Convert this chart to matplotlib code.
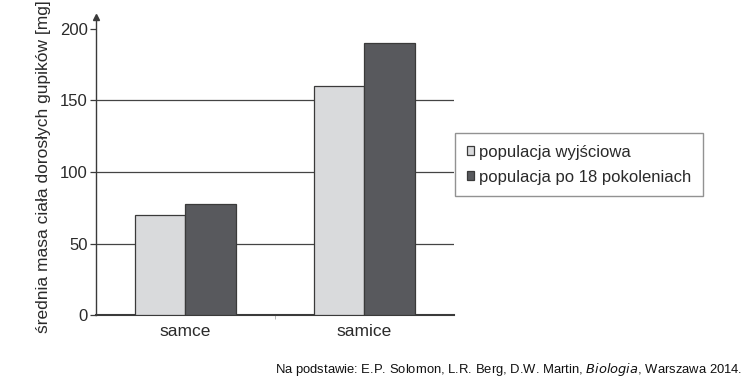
import matplotlib.pyplot as plt
import numpy as np

plt.rcParams['font.family'] = ['Liberation Sans', 'DejaVu Sans']

categories = ["samce", "samice"]
wyjsciowa = [70, 160]
po_18 = [78, 190]
series_labels = ["populacja wyjściowa", "populacja po 18 pokoleniach"]
yticks = [0, 50, 100, 150, 200]

light = "#d9dadc"
dark = "#58595d"
edge = "#3a3a3a"
txt = "#2a2a2a"

fig = plt.figure(figsize=(7.5, 3.8), dpi=100)
ax = fig.add_axes([0.128, 0.170, 0.477, 0.785])

x = np.arange(len(categories))
w = 0.283
b1 = ax.bar(x - w / 2, wyjsciowa, w, color=light, edgecolor=edge, linewidth=0.9, zorder=3)
b2 = ax.bar(x + w / 2, po_18, w, color=dark, edgecolor=edge, linewidth=0.9, zorder=3)

for v in yticks[1:-1]:
    ax.axhline(v, color="#444444", linewidth=0.9, zorder=1)

ax.set_xlim(-0.5, 1.5)
ax.set_ylim(0, 208)
ax.set_yticks(yticks)
ax.set_yticklabels([str(v) for v in yticks], fontsize=12, color=txt)
ax.tick_params(axis="y", length=4, width=0.9, color=edge, pad=2)
ax.set_xticks([0.5])
ax.set_xticklabels([""])
ax.tick_params(axis="x", length=3, width=0.6, color="#aaaaaa")
for xi, c in zip(x, categories):
    ax.text(xi, -6, c, ha="center", va="top", fontsize=12.5, color=txt)

for s in ["top", "right"]:
    ax.spines[s].set_visible(False)
ax.spines["left"].set_color(edge)
ax.spines["bottom"].set_color(edge)
ax.spines["left"].set_linewidth(1.0)
ax.spines["bottom"].set_linewidth(1.5)
ax.plot(-0.5, 208, marker="^", color=edge, markersize=5, clip_on=False, zorder=5)

ax.set_ylabel("średnia masa ciała dorosłych gupików [mg]", fontsize=12.5, color=txt, labelpad=6)

leg = fig.legend([b1, b2], series_labels, loc="upper left", bbox_to_anchor=(455 / 750, 1 - 133 / 380),
                 fontsize=12, frameon=True, fancybox=False, handlelength=0.45, handleheight=0.45,
                 handletextpad=0.3, borderpad=0.7, labelspacing=0.6, borderaxespad=0)
leg.get_frame().set_edgecolor("#777777")
leg.get_frame().set_linewidth(1.0)
for t in leg.get_texts():
    t.set_color(txt)

fig.text(742 / 750, 1 - 370 / 380,
         "Na podstawie: E.P. Solomon, L.R. Berg, D.W. Martin, $\\it{Biologia}$, Warszawa 2014.",
         ha="right", va="center", fontsize=9.4, color="#111111")

fig.savefig("out.png", dpi=100)
